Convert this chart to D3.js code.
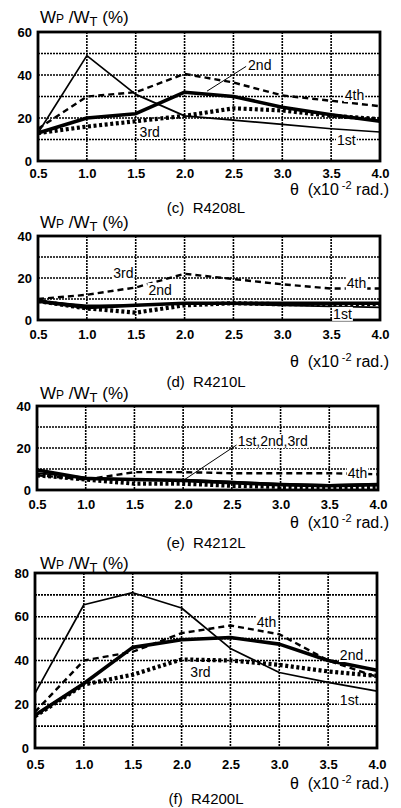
<!doctype html>
<html lang="en">
<head>
    <meta charset="UTF-8">
    <title>Wp/Wt vs theta</title>
    <script type="text/javascript" src="https://cdn.jsdelivr.net/npm/d3@7/dist/d3.min.js"></script>
    <style type="text/css">
        body { margin: 0; background: #fff; }
        svg { display: block; font-family: "Liberation Sans", Arial, sans-serif; }
    </style>
</head>
<body>
<script type="text/javascript">
    var width = 401;
    var height = 808;

    // rotation angle, x10^-2 rad.
    var theta = [0.5, 1.0, 1.5, 2.0, 2.5, 3.0, 3.5, 4.0];
    var x_ticks = [0.5, 1.0, 1.5, 2.0, 2.5, 3.0, 3.5, 4.0];

    // (c) R4208L
    var r4208_1st = [13, 49, 31, 21, 19, 17, 15, 13.5];
    var r4208_2nd = [13, 20, 22, 32, 30, 25, 21.5, 18.5];
    var r4208_3rd = [13, 16, 18.5, 21, 24.5, 23.5, 21, 19.5];
    var r4208_4th = [15, 30, 32, 40.5, 36.5, 30.5, 28, 25.5];
    var r4208_ticks = [0, 20, 40, 60];

    // (d) R4210L
    var r4210_1st = [9, 7, 7, 8, 7.5, 7, 6.5, 6];
    var r4210_2nd = [9, 6, 7, 8, 8, 8, 8, 8];
    var r4210_3rd = [9, 5.5, 3.5, 7, 8, 7.5, 7.5, 7.5];
    var r4210_4th = [10, 12, 15.5, 22, 19.5, 17, 15, 15];
    var r4210_ticks = [0, 20, 40];

    // (e) R4212L
    var r4212_1st = [8, 6, 5, 5, 4, 3, 2.5, 3];
    var r4212_2nd = [9.5, 5.5, 5, 4.5, 3.5, 2.5, 2, 2.5];
    var r4212_3rd = [7, 5, 3, 3, 2, 1.5, 1, 1.5];
    var r4212_4th = [7, 5, 8.5, 8.5, 8, 8, 8, 7.5];
    var r4212_ticks = [0, 20, 40];

    // (f) R4200L
    var r4200_1st = [25, 65.5, 71, 64, 45.5, 34.5, 30, 26];
    var r4200_2nd = [15, 29.5, 46, 49.5, 50.5, 47.5, 40, 35.5];
    var r4200_3rd = [14.5, 29, 33.5, 40.5, 40, 38, 35, 33];
    var r4200_4th = [16.5, 40, 44, 52.5, 56, 52, 40, 32.5];
    var r4200_ticks = [0, 20, 40, 60, 80];

    // line look per cycle
    var styles = {
        "1st": {w: 1.7, dash: null},
        "2nd": {w: 3.6, dash: null},
        "3rd": {w: 4.2, dash: "3,2.6"},
        "4th": {w: 2.4, dash: "6,4"}
    };

    var panels = [
        {cap: "(c)  R4208L", ymax: 60, ticks: r4208_ticks, left: 38, right: 380, top: 32, bottom: 161,
            titleY: 23, tickY: 179, thetaY: 195, capY: 213,
            series: {"1st": r4208_1st, "2nd": r4208_2nd, "3rd": r4208_3rd, "4th": r4208_4th},
            labels: [["2nd", 2.65, 44.5], ["4th", 3.64, 30.7], ["3rd", 1.54, 13.5], ["1st", 3.56, 9.8]],
            leader: [[2.23, 32.5], [2.63, 44]]},
        {cap: "(d)  R4210L", ymax: 40, ticks: r4210_ticks, left: 38, right: 380, top: 236, bottom: 320,
            titleY: 228, tickY: 340, thetaY: 367, capY: 387,
            series: {"1st": r4210_1st, "2nd": r4210_2nd, "3rd": r4210_3rd, "4th": r4210_4th},
            labels: [["3rd", 1.27, 22.4], ["2nd", 1.63, 14.3], ["4th", 3.66, 17.6], ["1st", 3.52, 2.9]],
            leader: null},
        {cap: "(e)  R4212L", ymax: 40, ticks: r4212_ticks, left: 37, right: 378, top: 406, bottom: 490,
            titleY: 399, tickY: 510, thetaY: 528, capY: 548,
            series: {"1st": r4212_1st, "2nd": r4212_2nd, "3rd": r4212_3rd, "4th": r4212_4th},
            labels: [["1st,2nd,3rd", 2.56, 23.3], ["4th", 3.69, 8.1]],
            leader: [[2.0, 4.5], [2.55, 21.5]]},
        {cap: "(f)  R4200L", ymax: 80, ticks: r4200_ticks, left: 35, right: 377, top: 573, bottom: 748,
            titleY: 569, tickY: 770, thetaY: 789, capY: 804,
            series: {"1st": r4200_1st, "2nd": r4200_2nd, "3rd": r4200_3rd, "4th": r4200_4th},
            labels: [["4th", 2.77, 57.6], ["2nd", 3.62, 42.5], ["3rd", 2.09, 34.7], ["1st", 3.62, 21.9]],
            leader: null}
    ];

    var svg = d3.select("body").append("svg").attr("width", width).attr("height", height);

    panels.forEach(function (p) {
        var x_scale = d3.scaleLinear().domain([0.5, 4.0]).range([p.left, p.right]);
        var y_scale = d3.scaleLinear().domain([0, p.ymax]).range([p.bottom, p.top]);
        var g = svg.append("g");

        // dotted grid
        var hy = d3.range(10, p.ymax, 10);
        g.selectAll("line.hg").data(hy).enter().append("line")
            .attr("x1", p.left).attr("x2", p.right)
            .attr("y1", function (d) { return y_scale(d); })
            .attr("y2", function (d) { return y_scale(d); })
            .attr("stroke", "#000").attr("stroke-width", 1.6).attr("stroke-dasharray", "2,1");
        g.selectAll("line.vg").data(x_ticks.slice(1, -1)).enter().append("line")
            .attr("y1", p.top).attr("y2", p.bottom)
            .attr("x1", function (d) { return x_scale(d); })
            .attr("x2", function (d) { return x_scale(d); })
            .attr("stroke", "#000").attr("stroke-width", 1.6).attr("stroke-dasharray", "2,1");

        // series
        var line = d3.line()
            .x(function (d, i) { return x_scale(theta[i]); })
            .y(function (d) { return y_scale(d); });
        ["4th", "3rd", "1st", "2nd"].forEach(function (k) {
            g.append("path").datum(p.series[k])
                .attr("d", line)
                .attr("fill", "none").attr("stroke", "#000")
                .attr("stroke-width", styles[k].w)
                .attr("stroke-dasharray", styles[k].dash)
                .attr("stroke-linejoin", "round");
        });

        // frame
        g.append("rect").attr("x", p.left).attr("y", p.top)
            .attr("width", p.right - p.left).attr("height", p.bottom - p.top)
            .attr("fill", "none").attr("stroke", "#000").attr("stroke-width", 2.8);

        // axes
        var xa = g.append("g").attr("transform", "translate(0," + (p.tickY - 10) + ")")
            .call(d3.axisBottom(x_scale).tickValues(x_ticks).tickSize(0).tickPadding(0).tickFormat(d3.format(".1f")));
        xa.select(".domain").remove();
        xa.selectAll("text").attr("font-size", 13).attr("font-weight", "bold").attr("fill", "#000")
            .attr("font-family", "Liberation Sans, Arial, sans-serif").attr("dy", "0.71em");

        var ya = g.append("g").attr("transform", "translate(" + p.left + ",0)")
            .call(d3.axisLeft(y_scale).tickValues(p.ticks).tickSize(0).tickPadding(6));
        ya.select(".domain").remove();
        ya.selectAll("text").attr("font-size", 13).attr("font-weight", "bold").attr("fill", "#000")
            .attr("font-family", "Liberation Sans, Arial, sans-serif");

        // leader line
        if (p.leader) {
            g.append("line")
                .attr("x1", x_scale(p.leader[0][0])).attr("y1", y_scale(p.leader[0][1]))
                .attr("x2", x_scale(p.leader[1][0])).attr("y2", y_scale(p.leader[1][1]))
                .attr("stroke", "#000").attr("stroke-width", 1);
        }

        // curve labels
        p.labels.forEach(function (l) {
            var t = g.append("text").text(l[0])
                .attr("x", x_scale(l[1])).attr("y", y_scale(l[2]))
                .attr("dominant-baseline", "central")
                .attr("font-size", 14).attr("fill", "#000");
            var b = t.node().getBBox();
            g.insert("rect", function () { return t.node(); })
                .attr("x", b.x - 1).attr("y", b.y + 1)
                .attr("width", b.width + 2).attr("height", b.height - 2)
                .attr("fill", "#fff");
        });

        // y title Wp/Wt (%)
        var yt = g.append("text").attr("x", 40).attr("y", p.titleY)
            .attr("font-size", 17).attr("fill", "#000");
        yt.append("tspan").text("W");
        yt.append("tspan").attr("font-size", 12).text("P");
        yt.append("tspan").text(" /W");
        yt.append("tspan").attr("font-size", 13).attr("dy", 3).text("T");
        yt.append("tspan").attr("dy", -3).text(" (%)");

        // x title
        var xt = g.append("text").attr("x", 389).attr("y", p.thetaY)
            .attr("text-anchor", "end").attr("font-size", 16).attr("fill", "#000")
            .style("white-space", "pre");
        xt.append("tspan").text("θ  (x10");
        xt.append("tspan").attr("font-size", 11).attr("dy", -6).text(" -2");
        xt.append("tspan").attr("dy", 6).text(" rad.)");

        // caption
        g.append("text").attr("x", 206).attr("y", p.capY)
            .attr("text-anchor", "middle").attr("font-size", 15).attr("fill", "#000")
            .style("white-space", "pre")
            .text(p.cap);
    });
</script>
</body>
</html>
